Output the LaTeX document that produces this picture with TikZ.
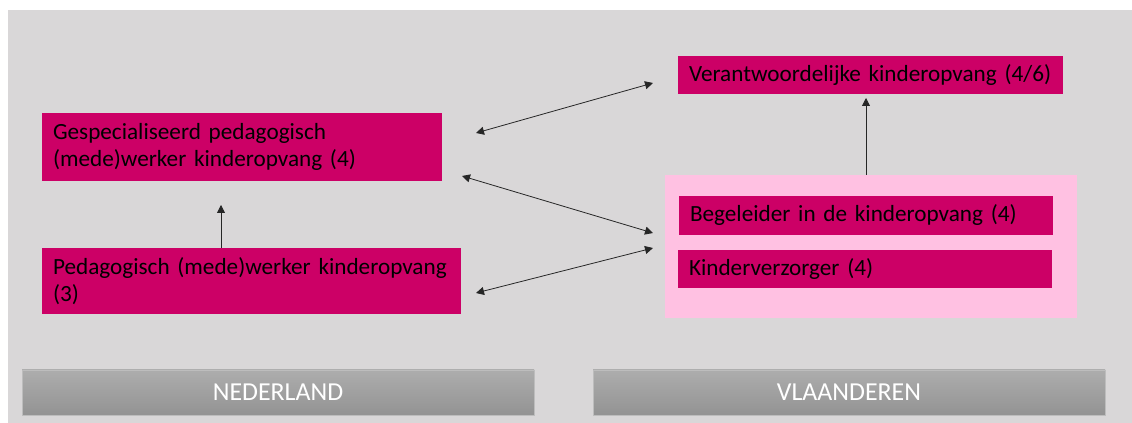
\documentclass[tikz,border=0pt]{standalone}
\usepackage{fontspec}
\setmainfont{Carlito}
\usetikzlibrary{arrows.meta,calc}
\definecolor{bgGray}{HTML}{D9D7D8}
\definecolor{roleMagenta}{HTML}{CC0066}
\definecolor{groupPink}{HTML}{FFC1E2}
\definecolor{barTop}{HTML}{ADADAD}
\definecolor{barBottom}{HTML}{939393}
\definecolor{barEdge}{HTML}{BDBDBD}
\tikzset{
  role/.style={fill=roleMagenta, text=black, align=left, inner xsep=8.25pt, inner ysep=0pt,
    font=\fontsize{17.4}{20.5}\selectfont},
  group/.style={fill=groupPink, inner sep=0pt},
  country/.style={top color=barTop, bottom color=barBottom, draw=barEdge, line width=0.6pt,
    text=white, inner sep=0pt, minimum width=384pt, minimum height=33.75pt,
    font=\fontsize{19.4}{21}\selectfont},
  link/.style={{Triangle[length=6pt,width=6pt]}-{Triangle[length=6pt,width=6pt]}, line width=0.6pt, draw=black!85},
  uplink/.style={-{Triangle[length=6pt,width=6pt]}, line width=0.6pt, draw=black!85}
}
\begin{document}
\begin{tikzpicture}[x=0.75pt, y=-0.75pt]
		%%%%% BACKGROUND %%%%%
		\useasboundingbox (0, 0) rectangle (1132, 423);
		\fill[white] (0, 0) rectangle (1132, 423);
		\fill[bgGray] (8, 10) rectangle (1132, 423);
		
		%%%%% NEDERLAND %%%%%
		\node[role, text width=283.5pt, minimum height=51pt] (gespec) at (242, 147)
			{\mbox{Gespecialiseerd pedagogisch}\\\mbox{(mede)werker kinderopvang (4)}};
		\node[role, text width=297.75pt, minimum height=49.5pt] (pedag) at (251.5, 281)
			{\mbox{Pedagogisch (mede)werker kinderopvang}\\(3)};
		
		%%%%% VLAANDEREN %%%%%
		\node[role, text width=272.25pt, minimum height=28.5pt] (verantw) at (870.5, 75)
			{\mbox{Verantwoordelijke kinderopvang (4/6)}};
		\node[group, minimum width=309pt, minimum height=107.25pt] (pink) at (871, 246.5) {};
		\node[role, text width=264pt, minimum height=29.25pt] (begel) at (866, 215.5)
			{\mbox{Begeleider in de kinderopvang (4)}};
		\node[role, text width=264pt, minimum height=28.5pt] (verzorg) at (865, 269)
			{\mbox{Kinderverzorger (4)}};
		
		%%%%% BARS %%%%%
		\node[country] (nl) at (278, 392.5) {NEDERLAND};
		\node[country] (vl) at (849, 392.5) {VLAANDEREN};
		
		%%%%% ARROWS %%%%%
		\coordinate (gespecR) at (476, 133);
		\coordinate (verantwL) at (653, 83);
		\coordinate (gespecC) at (462, 176);
		\coordinate (pinkA) at (653, 233);
		\coordinate (pedagR) at (476, 293);
		\coordinate (pinkB) at (653, 248);
		\coordinate (gespecB) at (221, 205);
		\coordinate (verantwB) at (866, 98);
		
		\draw[link] (gespecR) -- (verantwL);
		\draw[link] (gespecC) -- (pinkA);
		\draw[link] (pedagR) -- (pinkB);
		\draw[uplink] (gespecB |- pedag.north) -- (gespecB);
		\draw[uplink] (verantwB |- pink.north) -- (verantwB);
		
		%%%%% END %%%%%
	\end{tikzpicture}
\end{document}
